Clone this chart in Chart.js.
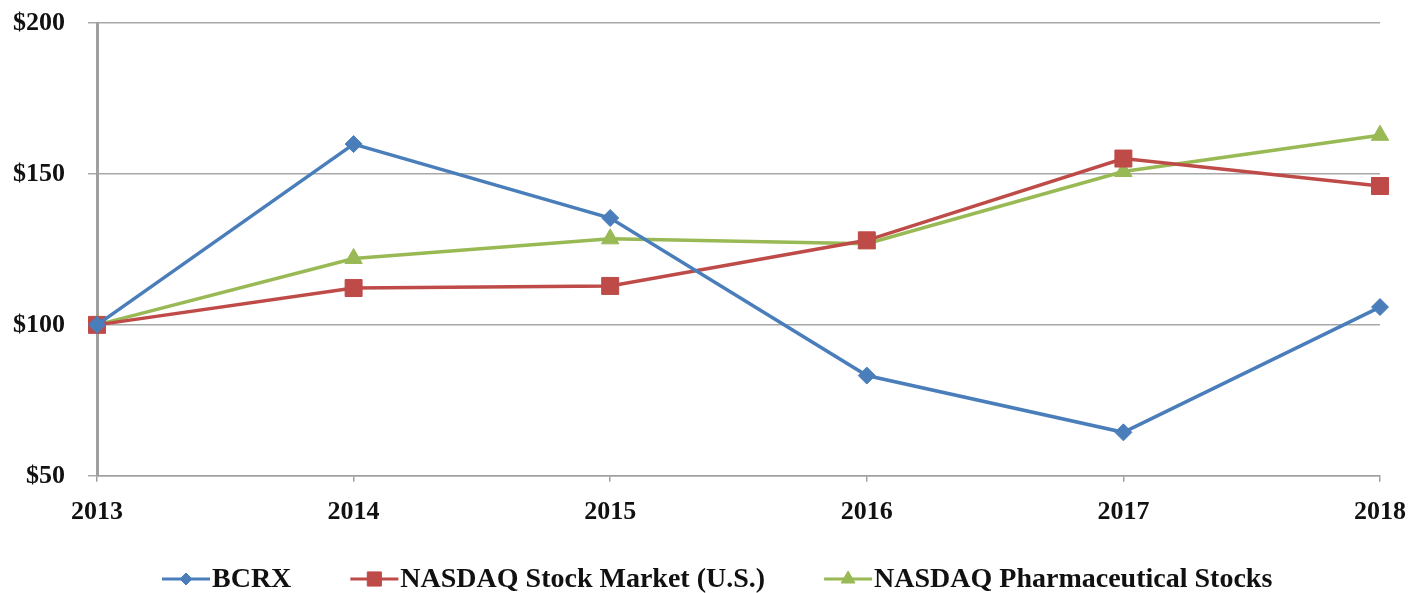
<!DOCTYPE html>
<html><head><meta charset="utf-8">
<script src="https://cdn.jsdelivr.net/npm/chart.js@4.4.1/dist/chart.umd.min.js"></script>
<style>html,body{margin:0;padding:0;background:#fff;}#wrap{width:1412px;height:593px;position:relative;}</style>
</head><body><div id="wrap"><canvas id="c" width="1412" height="593"></canvas></div>
<script>
const years = ['2013', '2014', '2015', '2016', '2017', '2018'];
const bcrx = [100, 159.9, 135.4, 83.2, 64.4, 105.9];
const nasdaqMarket = [100, 112.2, 112.9, 128.0, 155.1, 146.0];
const nasdaqPharma = [100, 122.0, 128.5, 126.9, 150.8, 162.8];
const yMin = 50, yMax = 200, yStep = 50;
const seriesNames = ['BCRX', 'NASDAQ Stock Market (U.S.)', 'NASDAQ Pharmaceutical Stocks'];

const FONT = '"Liberation Serif", "Times New Roman", serif';
const BLUE = '#4a7ebb', RED = '#be4b48', GREEN = '#98b954';

const lineLegend = {
  id: 'lineLegend',
  afterDraw(chart) {
    const ctx = chart.ctx;
    ctx.save();
    ctx.font = 'bold 28px ' + FONT;
    ctx.textBaseline = 'middle';
    ctx.textAlign = 'left';
    let x = 162;
    const y = 579;
    chart.data.datasets.forEach(ds => {
      ctx.strokeStyle = ds.borderColor;
      ctx.lineWidth = 3;
      ctx.beginPath(); ctx.moveTo(x, y); ctx.lineTo(x + 48, y); ctx.stroke();
      ctx.fillStyle = ds.borderColor;
      ctx.strokeStyle = ds.borderColor;
      ctx.lineWidth = 1;
      Chart.helpers.drawPoint(ctx, {pointStyle: ds.pointStyle, radius: ds.legendRadius, borderWidth: 1, rotation: 0}, x + 24, y);
      ctx.fillStyle = '#111';
      ctx.fillText(ds.label, x + 50, y + 1);
      x += 50 + ctx.measureText(ds.label).width + 59;
    });
    ctx.restore();
  }
};

new Chart(document.getElementById('c'), {
  type: 'line',
  data: {
    labels: years,
    datasets: [
      {label: seriesNames[0], data: bcrx, borderColor: BLUE, backgroundColor: BLUE, pointStyle: 'rectRot', pointRadius: 8.5, pointBorderWidth: 1, pointBorderColor: BLUE, pointBackgroundColor: BLUE, legendRadius: 6},
      {label: seriesNames[1], data: nasdaqMarket, borderColor: RED, backgroundColor: RED, pointStyle: 'rect', pointRadius: 12, pointBorderWidth: 1, pointBorderColor: RED, pointBackgroundColor: RED, legendRadius: 10},
      {label: seriesNames[2], data: nasdaqPharma, borderColor: GREEN, backgroundColor: GREEN, pointStyle: 'triangle', pointRadius: 10, pointBorderWidth: 1, pointBorderColor: GREEN, pointBackgroundColor: GREEN, legendRadius: 8}
    ].map(d => Object.assign(d, {borderWidth: 3.5, tension: 0, fill: false, pointHoverRadius: d.pointRadius}))
  },
  options: {
    responsive: false,
    animation: false,
    events: [],
    layout: {padding: {left: 12, right: 32, top: 23, bottom: 50}},
    plugins: {legend: {display: false}, tooltip: {enabled: false}},
    scales: {
      x: {
        type: 'category',
        offset: false,
        afterFit(scale) { scale.paddingLeft = 0; scale.paddingRight = 0; },
        grid: {display: true, drawOnChartArea: false, drawTicks: true, tickLength: 6, color: '#a0a0a0', lineWidth: 1.5},
        border: {display: true, color: '#a0a0a0', width: 1.5},
        ticks: {color: '#111', font: {family: FONT, size: 26, weight: 'bold'}, padding: 15, maxRotation: 0}
      },
      y: {
        min: yMin, max: yMax,
        afterFit(scale) { scale.width = 85; scale.paddingTop = 0; scale.paddingBottom = 0; },
        grid: {color: '#a8a8a8', lineWidth: 1.5, tickLength: 9, drawTicks: true},
        border: {display: true, color: '#a0a0a0', width: 3},
        ticks: {stepSize: yStep, color: '#111', font: {family: FONT, size: 26, weight: 'bold'}, padding: 23,
          callback: v => '$' + v}
      }
    }
  },
  plugins: [lineLegend]
});
</script></body></html>
